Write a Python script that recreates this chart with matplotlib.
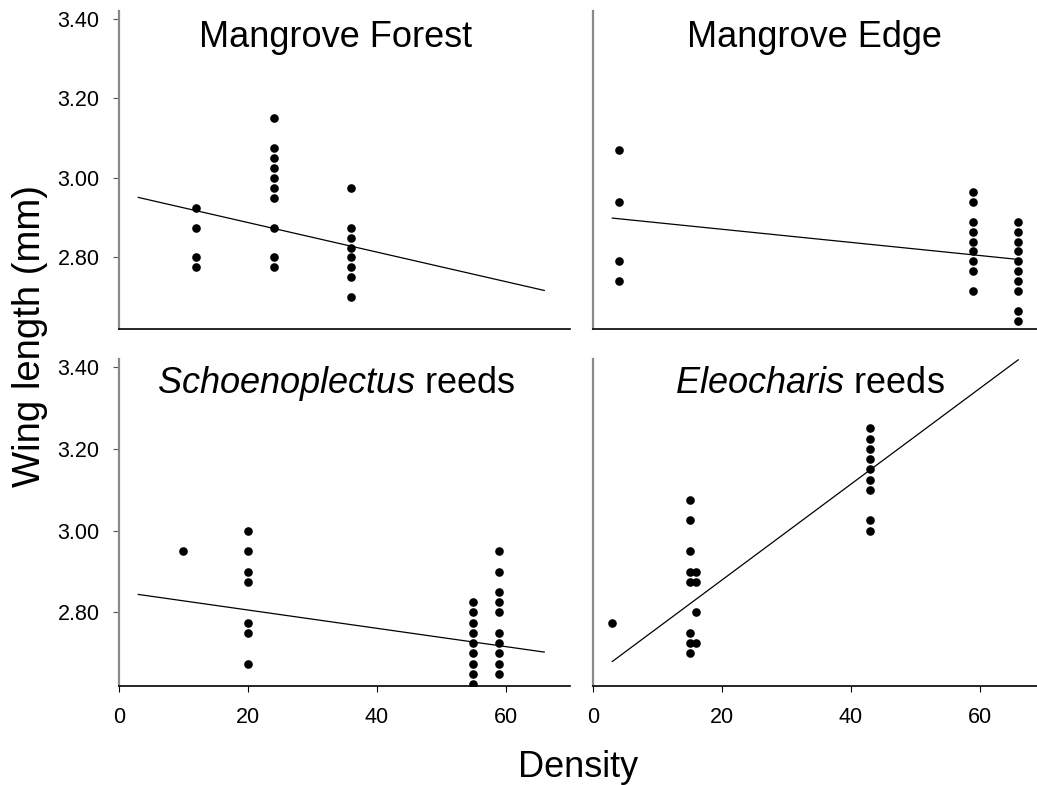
import matplotlib
matplotlib.use("Agg")
import matplotlib.pyplot as plt

plt.rcParams["font.family"] = ["Liberation Sans", "DejaVu Sans"]
plt.rcParams["mathtext.fontset"] = "custom"
plt.rcParams["mathtext.rm"] = "Liberation Sans"
plt.rcParams["mathtext.it"] = "Liberation Sans:italic"

# ---- data: wing length (mm) against density, one panel per habitat ----
forest_density = [12, 12, 12, 12,
                  24, 24, 24, 24, 24, 24, 24, 24, 24, 24,
                  36, 36, 36, 36, 36, 36, 36, 36]
forest_wing = [2.925, 2.875, 2.80, 2.775,
               3.15, 3.075, 3.05, 3.025, 3.00, 2.975, 2.95, 2.875, 2.80, 2.775,
               2.975, 2.875, 2.85, 2.825, 2.80, 2.775, 2.75, 2.70]
forest_fit_x = [3, 66]
forest_fit_y = [2.951, 2.717]

edge_density = [4, 4, 4, 4,
                59, 59, 59, 59, 59, 59, 59, 59, 59,
                66, 66, 66, 66, 66, 66, 66, 66, 66, 66]
edge_wing = [3.07, 2.94, 2.79, 2.74,
             2.965, 2.94, 2.89, 2.865, 2.84, 2.815, 2.79, 2.765, 2.715,
             2.89, 2.865, 2.84, 2.815, 2.79, 2.765, 2.74, 2.715, 2.665, 2.64]
edge_fit_x = [3, 66]
edge_fit_y = [2.899, 2.795]

schoeno_density = [10,
                   20, 20, 20, 20, 20, 20, 20,
                   55, 55, 55, 55, 55, 55, 55, 55, 55,
                   59, 59, 59, 59, 59, 59, 59, 59, 59, 59]
schoeno_wing = [2.95,
                3.00, 2.95, 2.90, 2.875, 2.775, 2.75, 2.675,
                2.825, 2.80, 2.775, 2.75, 2.725, 2.70, 2.675, 2.65, 2.625,
                2.95, 2.90, 2.85, 2.825, 2.80, 2.75, 2.725, 2.70, 2.675, 2.65]
schoeno_fit_x = [3, 66]
schoeno_fit_y = [2.844, 2.703]

eleo_density = [3,
                15, 15, 15, 15, 15, 15, 15, 15,
                16, 16, 16, 16,
                43, 43, 43, 43, 43, 43, 43, 43, 43]
eleo_wing = [2.775,
             3.075, 3.025, 2.95, 2.90, 2.875, 2.75, 2.725, 2.70,
             2.90, 2.875, 2.80, 2.725,
             3.25, 3.225, 3.20, 3.175, 3.15, 3.125, 3.10, 3.025, 3.00]
eleo_fit_x = [3, 66]
eleo_fit_y = [2.680, 3.418]

panel_titles = ["Mangrove Forest", "Mangrove Edge",
                r"$\mathit{Schoenoplectus}$ reeds", r"$\mathit{Eleocharis}$ reeds"]
y_ticks = [2.80, 3.00, 3.20, 3.40]
y_tick_labels = ["2.80", "3.00", "3.20", "3.40"]
x_ticks = [0, 20, 40, 60]
x_tick_labels = ["0", "20", "40", "60"]

panels = [
    (forest_density, forest_wing, forest_fit_x, forest_fit_y),
    (edge_density, edge_wing, edge_fit_x, edge_fit_y),
    (schoeno_density, schoeno_wing, schoeno_fit_x, schoeno_fit_y),
    (eleo_density, eleo_wing, eleo_fit_x, eleo_fit_y),
]

fig = plt.figure(figsize=(10.37, 7.85), dpi=100)

W, H = 1037.0, 785.0
col_left = [119 / W, 593 / W]
col_width = 451 / W
row_rect = [(1 - 329 / H, 318 / H), (1 - 686 / H, 327 / H)]
title_pos = [(0.48, 0.887), (0.492, 0.887), (0.481, 0.897), (0.481, 0.897)]

for i, (xs, ys, fx, fy) in enumerate(panels):
    row, col = divmod(i, 2)
    bottom, height = row_rect[row]
    ax = fig.add_axes([col_left[col], bottom, col_width, height])
    ax.plot(fx, fy, color="black", lw=0.9, zorder=2)
    ax.plot(xs, ys, "o", color="black", ms=6.2, mec="black", mew=0, zorder=3)
    ax.set_xlim(0, 70)
    ax.set_ylim(2.62, 3.42)

    for side in ("top", "right"):
        ax.spines[side].set_visible(False)
    ax.spines["left"].set_color("#8a8a8a")
    ax.spines["left"].set_linewidth(1.6)
    ax.spines["bottom"].set_color("black")
    ax.spines["bottom"].set_linewidth(1.2)

    if col == 0:
        ax.set_yticks(y_ticks)
        ax.set_yticklabels(y_tick_labels)
        ax.tick_params(axis="y", direction="out", length=4, width=0.8,
                       color="#555555", labelsize=15.5, pad=10)
    else:
        ax.set_yticks([])

    if row == 1:
        ax.set_xticks(x_ticks)
        ax.set_xticklabels(x_tick_labels)
        ax.tick_params(axis="x", direction="out", length=4, width=0.8,
                       labelsize=15.5, pad=11)
    else:
        ax.set_xticks([])

    tx, ty = title_pos[i]
    ax.text(tx, ty, panel_titles[i], transform=ax.transAxes, ha="center",
            va="baseline", fontsize=26)

fig.text(0.029, 1 - 336 / H, "Wing length (mm)", rotation=90, ha="center",
         va="center", fontsize=27.5)
fig.text(578 / W, 1 - 777 / H, "Density", ha="center", va="baseline",
         fontsize=26)

fig.savefig("out.png", dpi=100)
